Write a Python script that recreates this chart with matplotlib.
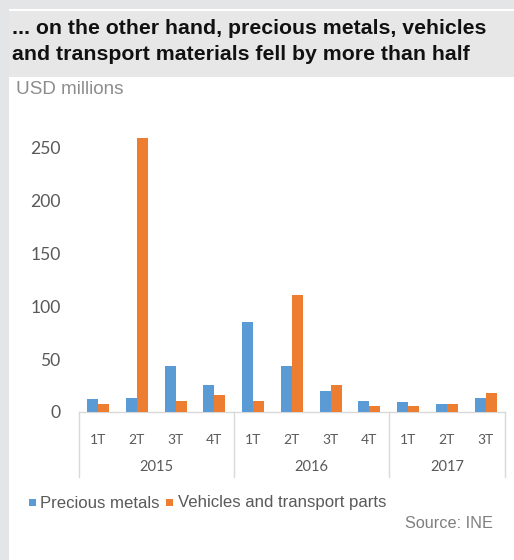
import matplotlib
matplotlib.use("Agg")
import matplotlib.pyplot as plt
from matplotlib.patches import Rectangle
from matplotlib.transforms import blended_transform_factory
import numpy as np

quarters = ["1T", "2T", "3T", "4T", "1T", "2T", "3T", "4T", "1T", "2T", "3T"]
years = ["2015", "2016", "2017"]
year_counts = [4, 4, 3]
precious_metals = [12, 13.5, 43.5, 25.5, 85, 43.5, 19.5, 10.5, 9, 7.5, 13.5]
vehicles = [7.5, 259, 10.5, 16.5, 10.5, 110, 25.5, 6, 6, 7.5, 18]
yticks = [0, 50, 100, 150, 200, 250]

W, H = 514, 560
fig = plt.figure(figsize=(W / 100, H / 100), dpi=100)
fig.patch.set_facecolor("#e4e5e7")

def px(x, y):
    return x / W, 1 - y / H

# white panel
fig.patches.append(Rectangle(px(9, 560), (W - 9) / W, (560 - 9) / H,
                             transform=fig.transFigure, facecolor="white",
                             edgecolor="none", zorder=-5))
# title band
fig.patches.append(Rectangle(px(9, 77), (W - 9) / W, (77 - 11) / H,
                             transform=fig.transFigure, facecolor="#e7e7e7",
                             edgecolor="none", zorder=-4))

fig.text(*px(12, 29), "... on the other hand, precious metals, vehicles",
         fontsize=15.3, fontweight="bold", family="Liberation Sans",
         color="#111111", va="center", ha="left")
fig.text(*px(12, 54), "and transport materials fell by more than half",
         fontsize=15.3, fontweight="bold", family="Liberation Sans",
         color="#111111", va="center", ha="left")
fig.text(*px(16, 90), "USD millions", fontsize=13.6, family="Liberation Sans",
         color="#8c8c8c", va="center", ha="left")

ax_left, ax_right, ax_bot, ax_top = 78.7, 505, 412, 126
ax = fig.add_axes([ax_left / W, 1 - ax_bot / H, (ax_right - ax_left) / W,
                   (ax_bot - ax_top) / H])
ax.set_facecolor("none")
ymax = 270
ax.set_ylim(0, ymax)
ax.set_xlim(-0.5, len(quarters) - 0.5)

x = np.arange(len(quarters))
bw = 0.283
ax.bar(x - bw / 2, precious_metals, bw, color="#5b9bd5", label="Precious metals", zorder=3)
ax.bar(x + bw / 2, vehicles, bw, color="#ed7d31", label="Vehicles and transport parts", zorder=3)

for s in ["top", "right", "left"]:
    ax.spines[s].set_visible(False)
ax.spines["bottom"].set_color("#d9d9d9")
ax.spines["bottom"].set_linewidth(1)

ax.set_yticks(yticks)
ax.set_yticklabels([str(v) for v in yticks], family="Lato", fontsize=12.6, color="#595959")
ax.tick_params(axis="y", length=0, pad=13)
ax.set_xticks(x)
ax.set_xticklabels(quarters, family="Lato", fontsize=10, color="#595959")
ax.tick_params(axis="x", length=0, pad=16)

axh = ax_bot - ax_top
trans = blended_transform_factory(ax.transData, ax.transAxes)
bounds = np.concatenate([[0], np.cumsum(year_counts)]) - 0.5
for b in bounds:
    ax.plot([b, b], [0, -(477 - 412) / axh], transform=trans, color="#d9d9d9",
            lw=1, clip_on=False)
for i, yr in enumerate(years):
    c = (bounds[i] + bounds[i + 1]) / 2
    ax.text(c, -(467 - 412) / axh, yr, transform=trans, ha="center", va="center",
            family="Lato", fontsize=10.5, color="#595959")

# legend
ly = 503
fig.patches.append(Rectangle(px(29, ly + 2.5), 7 / W, 7 / H, transform=fig.transFigure,
                             facecolor="#5b9bd5", edgecolor="none"))
fig.text(*px(40, ly), "Precious metals", fontsize=12.1, family="Liberation Sans",
         color="#595959", va="center", ha="left")
fig.patches.append(Rectangle(px(166, ly + 2.5), 7 / W, 7 / H, transform=fig.transFigure,
                             facecolor="#ed7d31", edgecolor="none"))
fig.text(*px(178, ly), "Vehicles and transport parts", fontsize=12.1,
         family="Liberation Sans", color="#595959", va="center", ha="left")

fig.text(*px(493, 523), "Source: INE", fontsize=11.7, family="Liberation Sans",
         color="#7f7f7f", va="center", ha="right")

fig.savefig("out.png", dpi=100, facecolor=fig.get_facecolor())
